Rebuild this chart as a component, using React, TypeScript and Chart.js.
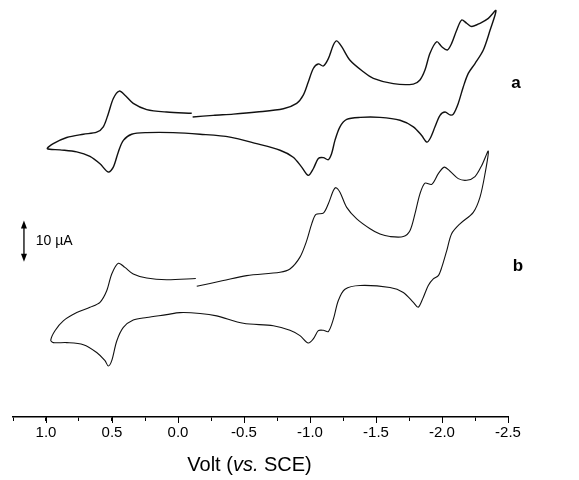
import React, { useEffect, useRef } from 'react';
import { Chart, registerables } from 'chart.js';

Chart.register(...registerables);

// Curve a: potential (V vs. SCE) and current (µA, offset), in scan order
const potentialA = [
  -0.111, -0.267, -0.419, -0.596, -0.798, -0.899, -0.949, -0.987, -1.025, -1.063, -1.101, -1.139, -1.177, -1.202, -1.24, -1.303,
  -1.404, -1.48, -1.631, -1.783, -1.833, -1.871, -1.909, -1.96, -1.998, -2.04, -2.073, -2.111, -2.149, -2.187, -2.225, -2.288, -2.351, -2.409,
  -2.364, -2.313, -2.25, -2.199, -2.161, -2.123, -2.086, -2.061, -2.023, -1.985, -1.947, -1.909, -1.884, -1.846, -1.783, -1.682, -1.53,
  -1.379, -1.278, -1.227, -1.189, -1.164, -1.139, -1.101, -1.063, -1.025, -0.987, -0.937, -0.873, -0.773, -0.596, -0.394, -0.167, 0.036,
  0.237, 0.351, 0.414, 0.452, 0.49, 0.528, 0.591, 0.667, 0.767, 0.894, 0.99,
  0.945, 0.843, 0.717, 0.616, 0.566, 0.528, 0.49, 0.445, 0.402, 0.339, 0.237, 0.086, -0.104,
];
const currentA = [
  73.0, 73.4, 73.7, 74.2, 75.0, 76.3, 78.3, 81.5, 84.8, 85.9, 85.4, 87.2, 90.5, 91.5, 90.1, 86.8,
  84.0, 82.4, 81.1, 81.0, 82.0, 84.4, 88.5, 91.3, 90.1, 89.3, 90.9, 94.1, 96.6, 95.8, 95.0, 95.8, 97.0, 98.9,
  94.1, 89.3, 86.0, 83.6, 80.3, 76.3, 73.7, 73.5, 74.2, 73.4, 70.6, 67.7, 66.9, 68.5, 70.6, 72.2, 72.9,
  72.9, 72.4, 70.6, 67.3, 64.1, 62.6, 63.1, 62.9, 60.4, 58.8, 60.8, 63.2, 64.9, 66.5, 68.1, 68.8, 69.2,
  69.2, 68.8, 67.3, 64.5, 60.8, 59.6, 61.6, 63.4, 64.5, 65.0, 65.3,
  66.5, 68.0, 68.8, 69.3, 70.6, 73.8, 77.5, 79.3, 78.3, 76.3, 74.8, 74.2, 73.9,
];

// Curve b
const potentialB = [
  -0.142, -0.343, -0.52, -0.773, -0.848, -0.924, -0.975, -1.013, -1.045, -1.101, -1.139, -1.177, -1.197, -1.227, -1.278, -1.354,
  -1.455, -1.53, -1.606, -1.707, -1.758, -1.795, -1.833, -1.871, -1.922, -1.972, -2.017, -2.061, -2.123, -2.187, -2.25, -2.301, -2.351,
  -2.326, -2.288, -2.237, -2.136, -2.073, -2.036, -1.998, -1.972, -1.934, -1.896, -1.858, -1.82, -1.783, -1.707, -1.606, -1.379,
  -1.265, -1.214, -1.177, -1.139, -1.101, -1.063, -1.025, -0.987, -0.924, -0.848, -0.722, -0.495, -0.293, -0.167, -0.015, 0.086,
  0.237, 0.339, 0.414, 0.464, 0.502, 0.528, 0.553, 0.616, 0.717, 0.843, 0.945, 0.964,
  0.932, 0.869, 0.767, 0.667, 0.591, 0.54, 0.502, 0.452, 0.402, 0.339, 0.237, 0.086, -0.135,
];
const currentB = [
  31.8, 33.2, 34.4, 35.2, 36.0, 38.9, 42.9, 47.0, 49.3, 49.6, 51.9, 55.1, 55.8, 54.7, 51.0, 48.2,
  45.8, 44.5, 43.9, 43.9, 45.4, 49.4, 54.3, 56.9, 56.6, 59.2, 60.8, 59.8, 58.0, 57.6, 58.5, 61.2, 64.7,
  59.2, 53.5, 49.8, 47.0, 44.6, 40.5, 36.4, 34.4, 33.6, 32.0, 29.1, 26.7, 27.9, 30.3, 31.5, 32.0,
  31.1, 28.3, 23.8, 20.8, 21.1, 21.0, 19.0, 18.0, 19.8, 21.1, 22.2, 22.8, 24.6, 25.2, 25.4, 24.9,
  24.2, 23.6, 21.8, 18.5, 13.7, 12.4, 13.7, 15.7, 17.6, 18.1, 18.1, 18.7,
  21.0, 23.4, 25.4, 26.7, 27.9, 30.7, 34.8, 37.4, 36.4, 34.8, 33.8, 33.4, 33.7,
];

// Axis
const xMin = -2.5;
const xMax = 1.25;
const xStep = 0.25;
const labeledTicks = [1.0, 0.5, 0.0, -0.5, -1.0, -1.5, -2.0, -2.5];
const axisTitleParts = ['Volt (', 'vs.', ' SCE)'];

// Scale bar (10 µA) and curve labels
const scaleBarPotential = 1.167;
const scaleBarCurrent = [37.8, 47.8];
const scaleBarText = '10 µA';
const scaleBarTextPotential = 1.078;
const curveLabelTexts = ['a', 'b'];
const curveLabelPotentials = [-2.561, -2.576];
const curveLabelCurrents = [81.2, 36.6];
const titlePotential = -0.542;

const FONT = '"Liberation Sans", Arial, Helvetica, sans-serif';

const isLabeled = (v: number) => labeledTicks.some((t) => Math.abs(t - v) < 1e-6);

const annotations = {
  id: 'cvAnnotations',
  afterDraw(chart: any) {
    const { ctx, scales, chartArea } = chart;
    const x = scales.x;
    const y = scales.y;
    ctx.save();
    ctx.fillStyle = '#000';
    ctx.strokeStyle = '#000';

    // longer tick marks at the labelled positions
    ctx.lineWidth = 1;
    labeledTicks.forEach((t) => {
      const px = Math.round(x.getPixelForValue(t)) + 0.5;
      ctx.beginPath();
      ctx.moveTo(px, chartArea.bottom);
      ctx.lineTo(px, chartArea.bottom + 6);
      ctx.stroke();
    });

    // scale bar double arrow
    const bx = x.getPixelForValue(scaleBarPotential);
    const yBot = y.getPixelForValue(scaleBarCurrent[0]);
    const yTop = y.getPixelForValue(scaleBarCurrent[1]);
    ctx.lineWidth = 1.3;
    ctx.beginPath();
    ctx.moveTo(bx, yTop + 4);
    ctx.lineTo(bx, yBot - 4);
    ctx.stroke();
    ctx.beginPath();
    ctx.moveTo(bx, yTop);
    ctx.lineTo(bx - 3, yTop + 8);
    ctx.lineTo(bx + 3, yTop + 8);
    ctx.closePath();
    ctx.fill();
    ctx.beginPath();
    ctx.moveTo(bx, yBot);
    ctx.lineTo(bx - 3, yBot - 8);
    ctx.lineTo(bx + 3, yBot - 8);
    ctx.closePath();
    ctx.fill();

    ctx.font = '14px ' + FONT;
    ctx.textAlign = 'left';
    ctx.textBaseline = 'middle';
    ctx.fillText(
      scaleBarText,
      x.getPixelForValue(scaleBarTextPotential),
      y.getPixelForValue((scaleBarCurrent[0] + scaleBarCurrent[1]) / 2)
    );

    // curve labels
    ctx.font = 'bold 17px ' + FONT;
    ctx.textAlign = 'center';
    curveLabelTexts.forEach((t, i) => {
      ctx.fillText(t, x.getPixelForValue(curveLabelPotentials[i]), y.getPixelForValue(curveLabelCurrents[i]));
    });

    // axis title with italic "vs."
    const fonts = ['20px ' + FONT, 'italic 20px ' + FONT, '20px ' + FONT];
    const widths = axisTitleParts.map((p, i) => {
      ctx.font = fonts[i];
      return ctx.measureText(p).width;
    });
    const total = widths.reduce((s, w) => s + w, 0);
    let tx = x.getPixelForValue(titlePotential) - total / 2;
    const ty = chartArea.bottom + 48;
    ctx.textAlign = 'left';
    axisTitleParts.forEach((p, i) => {
      ctx.font = fonts[i];
      ctx.fillText(p, tx, ty);
      tx += widths[i];
    });
    ctx.restore();
  },
};

export default function App() {
  const canvasRef = useRef<HTMLCanvasElement | null>(null);

  useEffect(() => {
    const canvas = canvasRef.current;
    if (!canvas) return;
    const chart = new Chart(canvas, {
      type: 'line',
      data: {
        datasets: [
          {
            label: 'a',
            data: potentialA.map((v, i) => ({ x: v, y: currentA[i] })),
            borderColor: '#111',
            borderWidth: 1.4,
            pointRadius: 0,
            tension: 0.3,
            fill: false,
            borderJoinStyle: 'round',
          },
          {
            label: 'b',
            data: potentialB.map((v, i) => ({ x: v, y: currentB[i] })),
            borderColor: '#111',
            borderWidth: 1.1,
            pointRadius: 0,
            tension: 0.3,
            fill: false,
            borderJoinStyle: 'round',
          },
        ],
      },
      options: {
        animation: false,
        responsive: false,
        maintainAspectRatio: false,
        clip: false,
        layout: { padding: { left: 13, right: 71, top: 6, bottom: 35 } },
        plugins: { legend: { display: false }, tooltip: { enabled: false }, title: { display: false } },
        scales: {
          x: {
            type: 'linear',
            min: xMin,
            max: xMax,
            reverse: true,
            border: { display: true, color: '#000', width: 1.5 },
            grid: { drawOnChartArea: false, drawTicks: true, tickLength: 4, color: '#000', lineWidth: 1 },
            ticks: {
              stepSize: xStep,
              autoSkip: false,
              maxRotation: 0,
              padding: 3,
              color: '#000',
              font: { family: FONT, size: 15 },
              callback: (value: any) => {
                const v = Number(value);
                if (!isLabeled(v)) return '';
                return Math.abs(v) < 1e-9 ? '0.0' : v.toFixed(1);
              },
            },
          },
          y: { type: 'linear', display: false, min: 0, max: 100 },
        },
      },
      plugins: [annotations],
    } as any);
    return () => chart.destroy();
  }, []);

  return (
    <div style={{ position: 'absolute', left: 0, top: 0, width: 579, height: 480, background: '#fff' }}>
      <canvas ref={canvasRef} width={579} height={480} style={{ display: 'block' }} />
    </div>
  );
}
